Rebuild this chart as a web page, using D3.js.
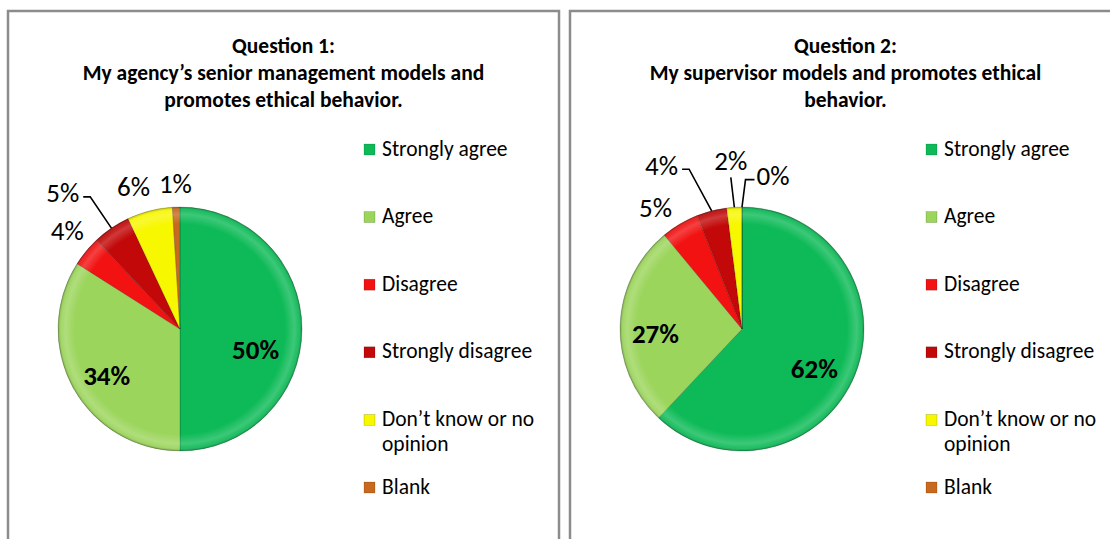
<!DOCTYPE html>
<html>
<head>
<meta charset="utf-8">
<script src="https://cdn.jsdelivr.net/npm/d3@7/dist/d3.min.js"></script>
<style>
  html, body { margin: 0; padding: 0; background: #ffffff; }
  svg { display: block; }
  text { font-family: Carlito, Calibri, Lato, "Open Sans", sans-serif; fill: #000; }
</style>
</head>
<body>
<svg id="chart" width="1110" height="539"></svg>
<script>
// Response categories shared by both questions
const categories = ["Strongly agree", "Agree", "Disagree", "Strongly disagree", "Don’t know or no opinion", "Blank"];
// Legend lines (the long category wraps onto two lines)
const legendLines = [["Strongly agree"], ["Agree"], ["Disagree"], ["Strongly disagree"], ["Don’t know or no", "opinion"], ["Blank"]];
const sliceColors = ["#0dba57", "#9bd55b", "#f21212", "#c20808", "#f7f700", "#c8691f"];

// Percent of responses per category
const q1Values = [50, 34, 4, 5, 6, 1];
const q2Values = [62, 27, 5, 4, 2, 0];

const q1Title = ["Question 1:", "My agency’s senior management models and", "promotes ethical behavior."];
const q2Title = ["Question 2:", "My supervisor models and promotes ethical", "behavior."];

// Label placement per slice: radius factor, nudge, and which side of the label a leader line attaches to
const q1LabelLayout = [
  { k: 0.62, dx: 0, dy: 21, bold: true },
  { k: 0.62, dx: -7, dy: 10, bold: true },
  { k: 1.2, dx: 0, dy: -5 },
  { k: 1.2, dx: -35, dy: -15, leader: "right" },
  { k: 1.2, dx: -10, dy: -1 },
  { k: 1.2, dx: 0, dy: 1 }
];
const q2LabelLayout = [
  { k: 0.62, dx: 2, dy: 12, bold: true },
  { k: 0.62, dx: -11, dy: 7, bold: true },
  { k: 1.2, dx: -12, dy: 5 },
  { k: 1.2, dx: -44, dy: -22, leader: "right" },
  { k: 1.2, dx: -2, dy: -22, leader: "bottom" },
  { k: 1.2, dx: 31, dy: -7, leader: "left" }
];

const svg = d3.select("#chart");
const defs = svg.append("defs");

// Soft bevel rim over each pie
const bevel = defs.append("radialGradient").attr("id", "bevel");
[[0, "#fff", 0], [0.86, "#fff", 0], [0.94, "#fff", 0.2], [0.975, "#fff", 0.08], [1, "#000", 0.28]]
  .forEach(([o, c, a]) => bevel.append("stop").attr("offset", o).attr("stop-color", c).attr("stop-opacity", a));

const panelW = 551, panelH = 560, panelTop = 11;
const pieCx = 172, pieCy = 318, radius = 122;
const legendX = 374, legendRowTop = 137, legendStep = 67.6;

function drawPanel(x0, values, titleLines, labelLayout) {
  const g = svg.append("g").attr("transform", `translate(${x0},${panelTop})`);

  g.append("rect")
    .attr("x", 0).attr("y", 0).attr("width", panelW).attr("height", panelH)
    .attr("fill", "#fff").attr("stroke", "#8c8c8c").attr("stroke-width", 2.5);

  // Title
  g.append("text")
    .attr("text-anchor", "middle")
    .attr("font-size", 21.5).attr("font-weight", "bold")
    .selectAll("tspan").data(titleLines).join("tspan")
    .attr("x", panelW / 2)
    .attr("y", (d, i) => 34 + i * 27)
    .attr("dy", "0.35em")
    .text(d => d);

  // Pie
  const pie = d3.pie().sort(null).value(d => d.value);
  const arcs = pie(values.map((v, i) => ({ value: v, i })));
  const arc = d3.arc().innerRadius(0).outerRadius(radius);
  const pg = g.append("g").attr("transform", `translate(${pieCx},${pieCy})`);

  pg.selectAll("path.slice").data(arcs).join("path")
    .attr("class", "slice")
    .attr("d", arc)
    .attr("fill", d => sliceColors[d.data.i])
    .attr("stroke", "rgba(0,0,0,0.22)")
    .attr("stroke-width", 0.8);

  pg.append("circle").attr("r", radius).attr("fill", "url(#bevel)").attr("pointer-events", "none");

  // Data labels
  arcs.forEach((d, idx) => {
    const lay = labelLayout[idx];
    const mid = (d.startAngle + d.endAngle) / 2;
    const lx = Math.sin(mid) * radius * lay.k + lay.dx;
    const ly = -Math.cos(mid) * radius * lay.k + lay.dy;
    const t = pg.append("text")
      .attr("x", lx).attr("y", ly).attr("dy", "0.35em")
      .attr("text-anchor", "middle")
      .attr("font-size", 27)
      .attr("font-weight", lay.bold ? "bold" : "normal")
      .text(d.data.value + "%");

    if (lay.leader) {
      const bb = t.node().getBBox();
      const ex = Math.sin(mid) * radius, ey = -Math.cos(mid) * radius;
      let pts;
      if (lay.leader === "right") {
        const yy = ly + 4;
        pts = [[ex, ey], [bb.x + bb.width + 11, yy], [bb.x + bb.width + 4, yy]];
      } else if (lay.leader === "left") {
        const yy = ly + 4;
        pts = [[ex, ey], [bb.x - 11, yy], [bb.x - 2, yy]];
      } else {
        pts = [[ex, ey], [lx, bb.y + bb.height]];
      }
      pg.append("path")
        .attr("d", d3.line()(pts))
        .attr("fill", "none").attr("stroke", "#000").attr("stroke-width", 1.6);
    }
  });

  // Legend
  const lg = g.append("g");
  categories.forEach((c, i) => {
    const y = legendRowTop + i * legendStep;
    lg.append("rect")
      .attr("x", legendX - 18).attr("y", y - 4).attr("width", 11).attr("height", 11)
      .attr("fill", sliceColors[i]).attr("stroke", "rgba(0,0,0,0.25)").attr("stroke-width", 0.6);
    lg.append("text")
      .attr("font-size", 21.5)
      .selectAll("tspan").data(legendLines[i]).join("tspan")
      .attr("x", legendX)
      .attr("y", (d, j) => y + j * 25)
      .attr("dy", "0.35em")
      .text(d => d);
  });
}

drawPanel(8, q1Values, q1Title, q1LabelLayout);
drawPanel(570, q2Values, q2Title, q2LabelLayout);
</script>
</body>
</html>
